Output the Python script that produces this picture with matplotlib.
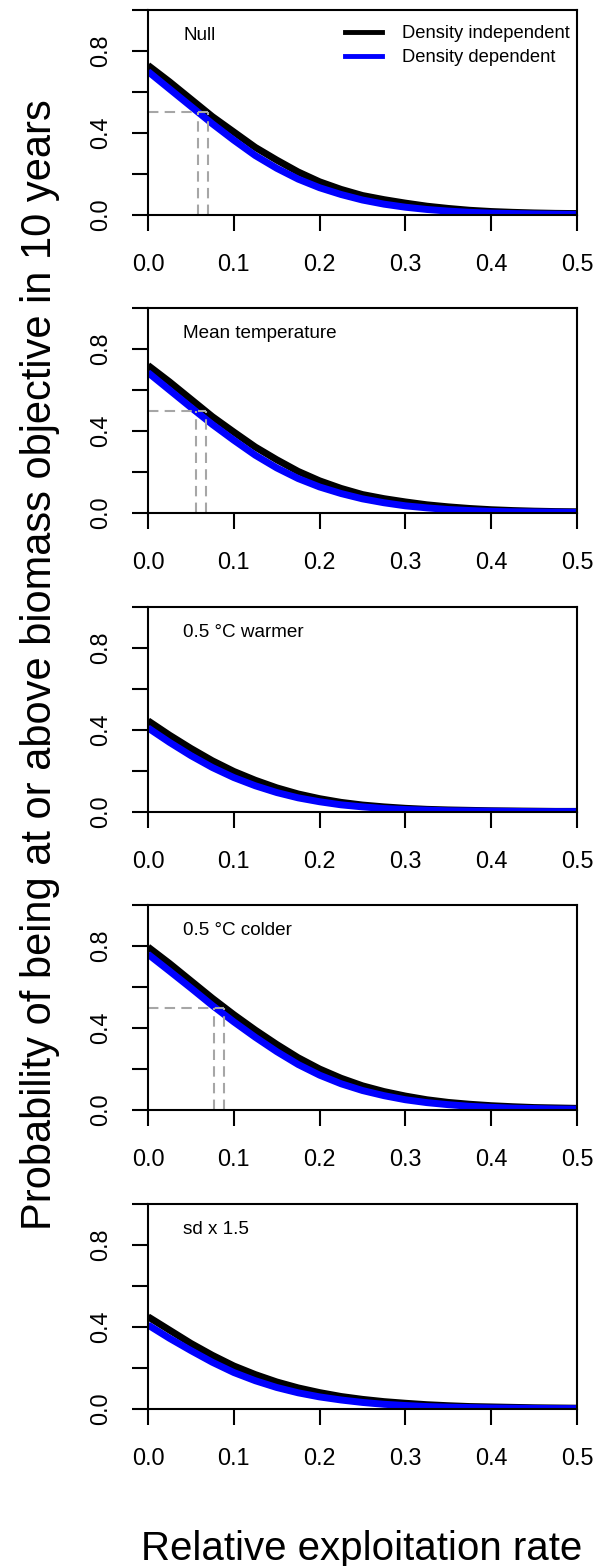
import matplotlib
matplotlib.use("Agg")
import matplotlib.pyplot as plt
from matplotlib.lines import Line2D

plt.rcParams['font.family'] = ['Liberation Sans', 'DejaVu Sans']

# relative exploitation rate (x axis)
rate = [0.0, 0.025, 0.05, 0.075, 0.1, 0.125, 0.15, 0.175, 0.2, 0.225, 0.25,
        0.275, 0.3, 0.325, 0.35, 0.375, 0.4, 0.425, 0.45, 0.475, 0.5]

titles = ["Null", "Mean temperature", "0.5 °C warmer", "0.5 °C colder", "sd x 1.5"]

# density independent (black)
di_null = [0.73, 0.65, 0.565, 0.48, 0.405, 0.33, 0.268, 0.21, 0.162, 0.125, 0.095,
           0.075, 0.058, 0.043, 0.032, 0.023, 0.017, 0.013, 0.010, 0.008, 0.007]
di_mean = [0.72, 0.64, 0.555, 0.47, 0.395, 0.322, 0.26, 0.203, 0.157, 0.12, 0.09,
           0.07, 0.054, 0.04, 0.03, 0.022, 0.016, 0.012, 0.009, 0.007, 0.006]
di_warm = [0.445, 0.375, 0.31, 0.25, 0.198, 0.155, 0.118, 0.088, 0.065, 0.047, 0.034,
           0.025, 0.018, 0.013, 0.010, 0.008, 0.006, 0.005, 0.004, 0.003, 0.003]
di_cold = [0.795, 0.715, 0.63, 0.545, 0.465, 0.39, 0.32, 0.255, 0.20, 0.155, 0.118,
           0.09, 0.068, 0.05, 0.037, 0.028, 0.021, 0.016, 0.012, 0.010, 0.008]
di_sd = [0.45, 0.385, 0.32, 0.262, 0.21, 0.168, 0.132, 0.103, 0.08, 0.061, 0.047,
         0.036, 0.028, 0.021, 0.016, 0.012, 0.010, 0.008, 0.006, 0.005, 0.004]

# density dependent (blue)
dd_null = [0.70, 0.615, 0.53, 0.445, 0.365, 0.29, 0.228, 0.175, 0.133, 0.10, 0.073,
           0.053, 0.038, 0.027, 0.019, 0.013, 0.009, 0.007, 0.005, 0.004, 0.003]
dd_mean = [0.685, 0.60, 0.515, 0.432, 0.355, 0.282, 0.22, 0.168, 0.127, 0.095, 0.069,
           0.05, 0.035, 0.025, 0.017, 0.012, 0.008, 0.006, 0.005, 0.004, 0.003]
dd_warm = [0.41, 0.34, 0.275, 0.217, 0.168, 0.128, 0.095, 0.069, 0.05, 0.035, 0.025,
           0.017, 0.012, 0.009, 0.006, 0.005, 0.004, 0.003, 0.002, 0.002, 0.002]
dd_cold = [0.76, 0.678, 0.595, 0.51, 0.43, 0.355, 0.285, 0.222, 0.17, 0.128, 0.095,
           0.07, 0.05, 0.036, 0.026, 0.018, 0.013, 0.009, 0.007, 0.005, 0.004]
dd_sd = [0.41, 0.345, 0.285, 0.228, 0.178, 0.138, 0.105, 0.079, 0.059, 0.044, 0.032,
         0.023, 0.017, 0.012, 0.009, 0.007, 0.005, 0.004, 0.003, 0.002, 0.002]

di_all = [di_null, di_mean, di_warm, di_cold, di_sd]
dd_all = [dd_null, dd_mean, dd_warm, dd_cold, dd_sd]

# rate where probability hits 0.5 (None = never)
cross_di = [0.070, 0.068, None, 0.089, None]
cross_dd = [0.058, 0.056, None, 0.077, None]

xticks = [0.0, 0.1, 0.2, 0.3, 0.4, 0.5]
xtick_labels = ["0.0", "0.1", "0.2", "0.3", "0.4", "0.5"]
yticks = [0.0, 0.2, 0.4, 0.6, 0.8, 1.0]
ytick_labels = ["0.0", "", "0.4", "", "0.8", ""]

W, H = 595, 1566
fig = plt.figure(figsize=(W / 100, H / 100), dpi=100)

left_px, right_px = 148, 577
tops_px = [10, 308, 607, 905, 1204]
panel_h = 205

for i in range(5):
    bottom = 1 - (tops_px[i] + panel_h) / H
    ax = fig.add_axes([left_px / W, bottom, (right_px - left_px) / W, panel_h / H])

    ax.plot(rate, di_all[i], color='black', lw=5, solid_capstyle='butt')
    ax.plot(rate, dd_all[i], color='blue', lw=5, solid_capstyle='butt')

    if cross_di[i] is not None:
        dash = dict(color='#a6a6a6', lw=1.5, ls=(0, (5, 3)))
        ax.plot([0, cross_di[i]], [0.5, 0.5], **dash)
        ax.plot([cross_dd[i], cross_dd[i]], [0, 0.5], **dash)
        ax.plot([cross_di[i], cross_di[i]], [0, 0.5], **dash)

    ax.set_xlim(0, 0.5)
    ax.set_ylim(0, 1)
    ax.set_xticks(xticks)
    ax.set_xticklabels(xtick_labels)
    ax.set_yticks(yticks)
    ax.set_yticklabels(ytick_labels, rotation=90, va='center')
    ax.tick_params(direction='out', length=11.5, width=1.5, labelsize=16.8)
    ax.tick_params(axis='x', pad=16)
    ax.tick_params(axis='y', pad=14)
    for sp in ax.spines.values():
        sp.set_linewidth(1.5)

    ax.text(0.082, 0.878, titles[i], transform=ax.transAxes, fontsize=13.6,
            ha='left', va='center')

    if i == 0:
        handles = [Line2D([], [], color='black', lw=3.5),
                   Line2D([], [], color='blue', lw=3.5)]
        ax.legend(handles, ["Density independent", "Density dependent"],
                  loc='upper left', bbox_to_anchor=(0.46, 0.925), frameon=False,
                  fontsize=13.2, handlelength=2.0, handletextpad=1.1,
                  labelspacing=0.37, borderpad=0, borderaxespad=0)

fig.text(40 / W, 1 - 665 / H,
         "Probability of being at or above biomass objective in 10 years",
         rotation=90, ha='center', va='center', fontsize=30)
fig.text(362 / W, 1 - 1560 / H, "Relative exploitation rate",
         ha='center', va='baseline', fontsize=29)

fig.savefig("out.png", dpi=100)
